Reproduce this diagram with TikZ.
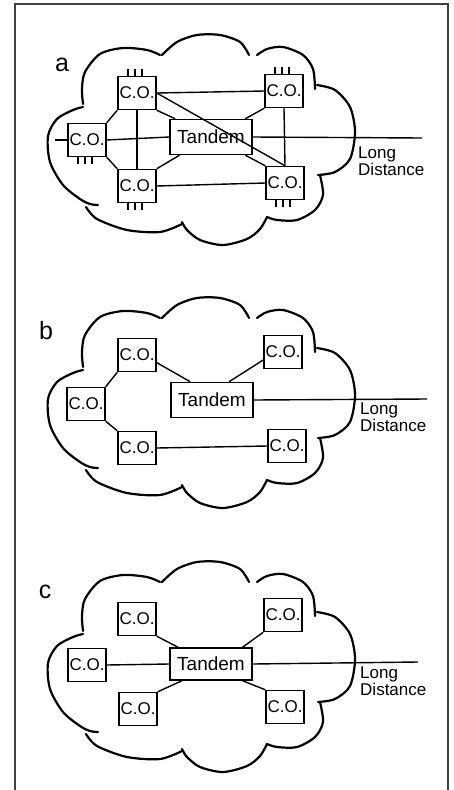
\documentclass[tikz,border=0pt]{standalone}
\usepackage{fontspec}
\setmainfont{Liberation Sans}
\tikzstyle{co} = [draw=black, rectangle, line width=1.5pt, minimum width=38pt, minimum height=33pt, inner sep=0pt, font=\fontsize{17}{17}\selectfont]
\tikzstyle{tandem} = [draw=black, rectangle, line width=1.5pt, minimum width=82pt, minimum height=35pt, inner sep=0pt, font=\fontsize{19}{19}\selectfont]
\tikzstyle{link} = [line width=1.4pt]
\tikzstyle{cloudline} = [line width=2.2pt, line cap=round]
\tikzstyle{dist} = [align=left, anchor=north west, inner sep=0pt, font=\fontsize{17}{17}\selectfont]
\tikzstyle{panel} = [inner sep=0pt, font=\fontsize{25}{25}\selectfont]
\tikzstyle{frame} = [draw=black!75, line width=1.3pt]
\newcommand{\netcloud}{%
  \draw[cloudline] plot[smooth] coordinates {(83,-33) (82,-48) (85,-65) (100,-83) (123,-89) (147,-87) (160,-82)};
  \draw[cloudline] plot[smooth] coordinates {(162,-82) (177,-95) (197,-102) (220,-102) (240,-95) (249,-82)};
  \draw[cloudline] plot[smooth] coordinates {(257,-82) (267,-88) (283,-90) (303,-82) (313,-68) (315,-48)};
  \draw[cloudline] plot[smooth] coordinates {(317,-52) (335,-47) (350,-30) (355,-5) (350,22) (335,35) (318,38)};
  \draw[cloudline] plot[smooth] coordinates {(320,38) (323,58) (315,73) (297,83) (277,83) (267,80)};
  \draw[cloudline] plot[smooth] coordinates {(267,80) (260,92) (247,102) (223,108) (200,103) (187,93) (182,85)};
  \draw[cloudline] plot[smooth] coordinates {(182,87) (160,95) (127,93) (97,82) (86,70)};
  \draw[cloudline] plot[smooth] coordinates {(98,68) (90,67) (80,62) (63,48) (50,25) (48,-1) (57,-18) (73,-27) (83,-30)};
}

\begin{document}
\begin{tikzpicture}[x=1pt, y=-1pt]
	\useasboundingbox (0,0) rectangle (453,790);
	\draw[frame] (15,790) -- (15,4) -- (448,4) -- (448,790);

	\node[panel] (labA) at (62,65) {a};
	\node[panel] (labB) at (46,331) {b};
	\node[panel] (labC) at (45,592) {c};

	\begin{scope}[shift={(0,137)}]
		\netcloud
		\node[co] (aTL) at (137,-44) {C.O.};
		\node[co] (aTR) at (284,-46) {C.O.};
		\node[co] (aL) at (87,3) {C.O.};
		\node[tandem] (aT) at (211,0) {Tandem};
		\node[co] (aBL) at (137,49) {C.O.};
		\node[co] (aBR) at (285,46) {C.O.};
		\coordinate (aIn) at (55,3);
		\coordinate (aLD) at (422,1);
		\node[dist] (aDist) at (358,10) {Long\\Distance};

		\draw[link] (aIn) -- (aL.west);
		\draw[link] (aTL.east) -- (aTR.west);
		\draw[link] (aTL.east) -- (aBR.north);
		\draw[link] (aTR.south west) -- (aT.28);
		\draw[link] (aTR.south) -- (aBR.north);
		\draw[link] (aTL.south west) -- (aL.north east);
		\draw[link] (aTL.south) -- (aBL.north);
		\draw[link] (aTL.south east) -- (aT.153);
		\draw[link] (aL.south east) -- (aBL.north west);
		\draw[link] (aL.east) -- (aT.west);
		\draw[link] (aBL.north east) -- (aT.-150);
		\draw[link] (aBL.east) -- (aBR.west);
		\draw[link] (aT.-28) -- (aBR.north west);
		\draw[link] (aT.east) -- (aLD);

		\foreach \n in {aTL,aTR}
			\foreach \dx in {-9,-2,5}
				\draw[link] (\n.north) ++(\dx,0) -- ++(0,-7);
		\foreach \n in {aL,aBL,aBR}
			\foreach \dx in {-9,-2,5}
				\draw[link] (\n.south) ++(\dx,0) -- ++(0,7);
	\end{scope}

	\begin{scope}[shift={(0,400)}]
		\netcloud
		\node[co] (bTL) at (137,-45) {C.O.};
		\node[co] (bTR) at (283,-48) {C.O.};
		\node[co] (bL) at (86,4) {C.O.};
		\node[tandem] (bT) at (212,0) {Tandem};
		\node[co] (bBL) at (137,48) {C.O.};
		\node[co] (bBR) at (287,46) {C.O.};
		\coordinate (bLD) at (427,-1);
		\node[dist] (bDist) at (360,3) {Long\\Distance};

		\draw[link] (bTL.-21) -- (bT.140);
		\draw[link] (bTR.202) -- (bT.47);
		\draw[link] (bL.north east) -- (bTL.south west);
		\draw[link] (bL.south east) -- (bBL.north west);
		\draw[link] (bBL.east) -- (bBR.west);
		\draw[link] (bT.east) -- (bLD);
	\end{scope}

	\begin{scope}[shift={(0,664)}]
		\netcloud
		\node[co] (cTL) at (137,-45) {C.O.};
		\node[co] (cTR) at (283,-49) {C.O.};
		\node[co] (cL) at (87,1) {C.O.};
		\node[tandem, minimum height=32pt] (cT) at (211,0) {Tandem};
		\node[co] (cBL) at (138,45) {C.O.};
		\node[co] (cBR) at (285,43) {C.O.};
		\coordinate (cLD) at (418,-2);
		\node[dist] (cDist) at (360,3) {Long\\Distance};

		\draw[link] (cTL.south east) -- (cT.153);
		\draw[link] (cTR.south west) -- (cT.28);
		\draw[link] (cL.east) -- (cT.west);
		\draw[link] (cBL.north east) -- (cT.-150);
		\draw[link] (cBR.north west) -- (cT.-28);
		\draw[link] (cT.east) -- (cLD);
	\end{scope}
\end{tikzpicture}
\end{document}
